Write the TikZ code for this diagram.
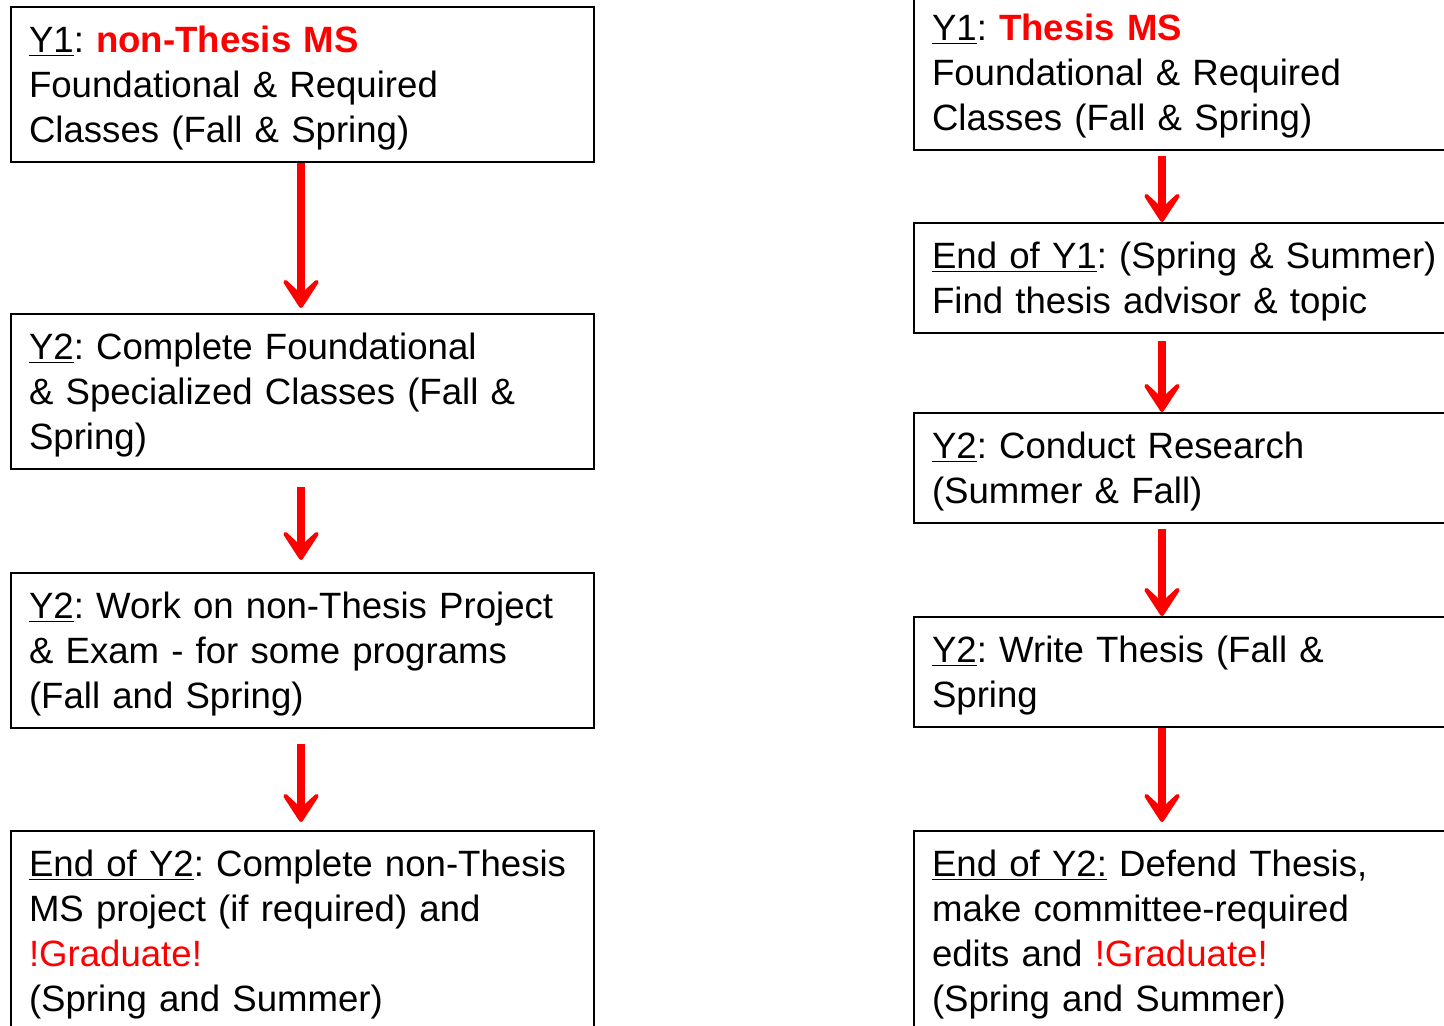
\documentclass[tikz,border=0pt]{standalone}
\usepackage{fontspec}
\setmainfont{Liberation Sans}
\usetikzlibrary{arrows.meta}
\frenchspacing
\newcommand\stagestrut{\rule[-4.75pt]{0pt}{22.5pt}}

\begin{document}
\begin{tikzpicture}
	[x=0.5pt,y=-0.5pt,
	stage/.style={draw, line width=1pt, anchor=north west, align=left, inner xsep=9pt, inner ysep=5pt,
		font=\fontsize{18.3}{22.5}\selectfont, execute at begin node=\stagestrut, execute at end node=\stagestrut},
	lstage/.style={stage, text width=273.5pt},
	rstage/.style={stage, text width=267pt},
	flow/.style={draw=red, line width=4pt, -{Stealth[length=20pt, width=26pt, inset=12pt, round]}}]
	\useasboundingbox (0,0) rectangle (1444,1025);
	\clip (0,0) rectangle (1444,1025);

	% non-thesis track
	\node[lstage] (l1) at (10,6) {\underline{Y1}: \textcolor{red}{\textbf{non-Thesis MS}}\\Foundational \& Required\\Classes (Fall \& Spring)};
	\node[lstage] (l2) at (10,313) {\underline{Y2}: Complete Foundational\\\& Specialized Classes (Fall \&\\Spring)};
	\node[lstage] (l3) at (10,572) {\underline{Y2}: Work on non-Thesis Project\\\& Exam - for some programs\\(Fall and Spring)};
	\node[lstage] (l4) at (10,830) {\underline{End of Y2}: Complete non-Thesis\\MS project (if required) and\\\textcolor{red}{!Graduate!}\\(Spring and Summer)};

	% thesis track
	\node[rstage] (r1) at (913,-6) {\underline{Y1}: \textcolor{red}{\textbf{Thesis MS}}\\Foundational \& Required\\Classes (Fall \& Spring)};
	\node[rstage] (r2) at (913,222) {\underline{End of Y1}: (Spring \& Summer)\\Find thesis advisor \& topic};
	\node[rstage] (r3) at (913,412) {\underline{Y2}: Conduct Research\\(Summer \& Fall)};
	\node[rstage] (r4) at (913,616) {\underline{Y2}: Write Thesis (Fall \&\\Spring};
	\node[rstage] (r5) at (913,830) {\underline{End of Y2:} Defend Thesis,\\make committee-required\\edits and \textcolor{red}{!Graduate!}\\(Spring and Summer)};

	\coordinate (lcol) at (301,0);
	\coordinate (rcol) at (1162,0);

	\draw[flow, shorten >=2.5pt] (l1.south -| lcol) -- (l2.north -| lcol);
	\draw[flow, shorten <=8.5pt, shorten >=6pt] (l2.south -| lcol) -- (l3.north -| lcol);
	\draw[flow, shorten <=7.5pt, shorten >=4pt] (l3.south -| lcol) -- (l4.north -| lcol);

	\draw[flow, shorten <=2.5pt] (r1.south -| rcol) -- (r2.north -| rcol);
	\draw[flow, shorten <=3.5pt] (r2.south -| rcol) -- (r3.north -| rcol);
	\draw[flow, shorten <=2.5pt] (r3.south -| rcol) -- (r4.north -| rcol);
	\draw[flow, shorten >=4pt] (r4.south -| rcol) -- (r5.north -| rcol);
\end{tikzpicture}
\end{document}
